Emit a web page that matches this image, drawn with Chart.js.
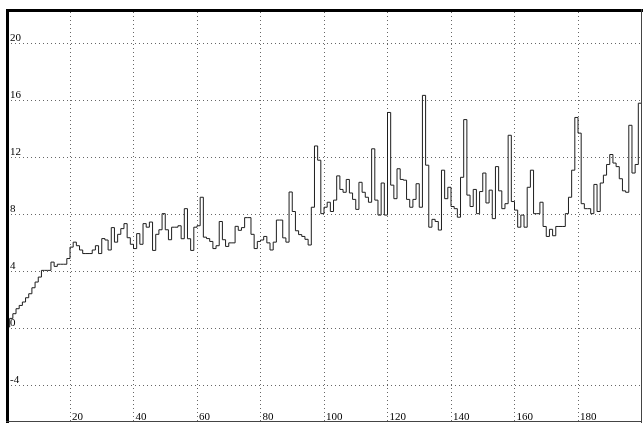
<!DOCTYPE html>
<html>
<head>
<meta charset="utf-8">
<script src="https://cdn.jsdelivr.net/npm/chart.js@4.4.1/dist/chart.umd.min.js"></script>
<style>
  html, body { margin: 0; padding: 0; background: #fff; }
  canvas { display: block; }
</style>
</head>
<body>
<canvas id="chart" width="643" height="423"></canvas>
<script>
// one value per x step (x = 0 .. 200)
const seriesValues = [
  0.1, 0.7, 1.03, 1.38, 1.61, 1.85, 2.15, 2.43, 2.85, 3.25,
  3.6, 4.07, 4.07, 4.07, 4.65, 4.35, 4.5, 4.5, 4.5, 4.9,
  5.7, 6.05, 5.8, 5.5, 5.25, 5.25, 5.25, 5.5, 5.8, 5.25,
  6.3, 6.2, 5.5, 7.07, 6.05, 6.6, 7.0, 7.35, 6.36, 5.9,
  5.6, 6.65, 5.9, 7.35, 7.1, 7.46, 5.47, 6.6, 6.92, 8.05,
  6.92, 6.22, 7.1, 7.1, 7.2, 6.29, 8.4, 6.29, 5.47, 7.1,
  7.2, 9.2, 6.4, 6.3, 6.1, 5.6, 5.8, 7.5, 6.22, 5.75,
  6.0, 6.0, 7.16, 6.88, 7.07, 7.77, 7.77, 6.6, 5.6, 6.1,
  6.2, 6.45, 6.0, 5.5, 6.05, 7.6, 7.6, 6.35, 6.05, 9.57,
  8.2, 6.85, 6.58, 6.45, 6.25, 5.85, 8.5, 12.8, 11.8, 8.05,
  8.5, 8.85, 8.2, 9.0, 10.7, 9.75, 9.55, 10.45, 9.5, 9.05,
  8.35, 10.25, 9.55, 9.2, 8.85, 12.6, 9.0, 7.95, 10.2, 7.95,
  15.15, 10.05, 9.1, 11.2, 10.45, 10.4, 9.05, 8.5, 9.05, 10.15,
  8.5, 16.35, 11.45, 7.1, 7.65, 7.5, 6.9, 11.1, 9.1, 9.9,
  8.55, 8.4, 7.8, 10.6, 14.65, 9.35, 8.55, 9.75, 8.05, 9.6,
  10.9, 8.8, 9.7, 7.7, 11.35, 9.65, 8.4, 8.75, 13.55, 8.9,
  8.3, 7.1, 7.95, 7.1, 9.9, 11.1, 8.05, 8.05, 8.85, 7.15,
  6.45, 6.95, 6.5, 7.15, 7.15, 7.15, 8.05, 9.2, 11.1, 14.8,
  13.7, 8.75, 8.4, 8.4, 8.05, 10.1, 8.2, 10.2, 10.75, 11.5,
  12.2, 11.6, 11.35, 10.5, 9.65, 9.55, 14.25, 10.9, 11.5, 15.8,
  11.35
];
const xTicks = [20, 40, 60, 80, 100, 120, 140, 160, 180];
const yTicks = [-4, 0, 4, 8, 12, 16, 20];

const labelFont = '11px "Liberation Serif", "Times New Roman", serif';

// frame + tick labels drawn inside the plot, like the original
const framePlugin = {
  id: 'frame',
  afterDraw(chart) {
    const ctx = chart.ctx;
    const xs = chart.scales.x, ys = chart.scales.y;
    ctx.save();
    ctx.fillStyle = '#000';
    ctx.font = labelFont;
    ctx.textBaseline = 'alphabetic';
    ctx.textAlign = 'left';
    yTicks.forEach(v => {
      ctx.fillText(String(v), 10, ys.getPixelForValue(v) - 2);
    });
    xTicks.forEach(v => {
      ctx.fillText(String(v), xs.getPixelForValue(v) + 2, 420);
    });
    // thick left/top border, thin right/bottom
    ctx.fillStyle = '#000';
    ctx.fillRect(6, 9, 3, 414);
    ctx.fillRect(6, 9, 637, 3);
    ctx.fillStyle = '#444';
    ctx.fillRect(641, 9, 1, 414);
    ctx.fillRect(6, 421, 636, 1);
    ctx.restore();
  }
};

new Chart(document.getElementById('chart'), {
  type: 'line',
  data: {
    datasets: [{
      data: seriesValues.map((v, i) => ({ x: i, y: v })),
      stepped: true,
      borderColor: '#1e1e1e',
      borderWidth: 1,
      pointRadius: 0,
      fill: false
    }]
  },
  options: {
    responsive: false,
    animation: false,
    events: [],
    layout: { padding: { left: 6.5, top: 12, right: 1.5, bottom: 2 } },
    plugins: { legend: { display: false }, tooltip: { enabled: false } },
    scales: {
      x: {
        type: 'linear',
        min: 0,
        max: 200,
        afterBuildTicks: s => { s.ticks = xTicks.map(v => ({ value: v })); },
        ticks: { display: false },
        grid: { color: '#666', drawTicks: false },
        border: { display: false, dash: [1, 3] }
      },
      y: {
        min: -6.5,
        max: 22.2,
        afterBuildTicks: s => { s.ticks = yTicks.map(v => ({ value: v })); },
        ticks: { display: false },
        grid: { color: '#666', drawTicks: false },
        border: { display: false, dash: [1, 3] }
      }
    }
  },
  plugins: [framePlugin]
});
</script>
</body>
</html>
